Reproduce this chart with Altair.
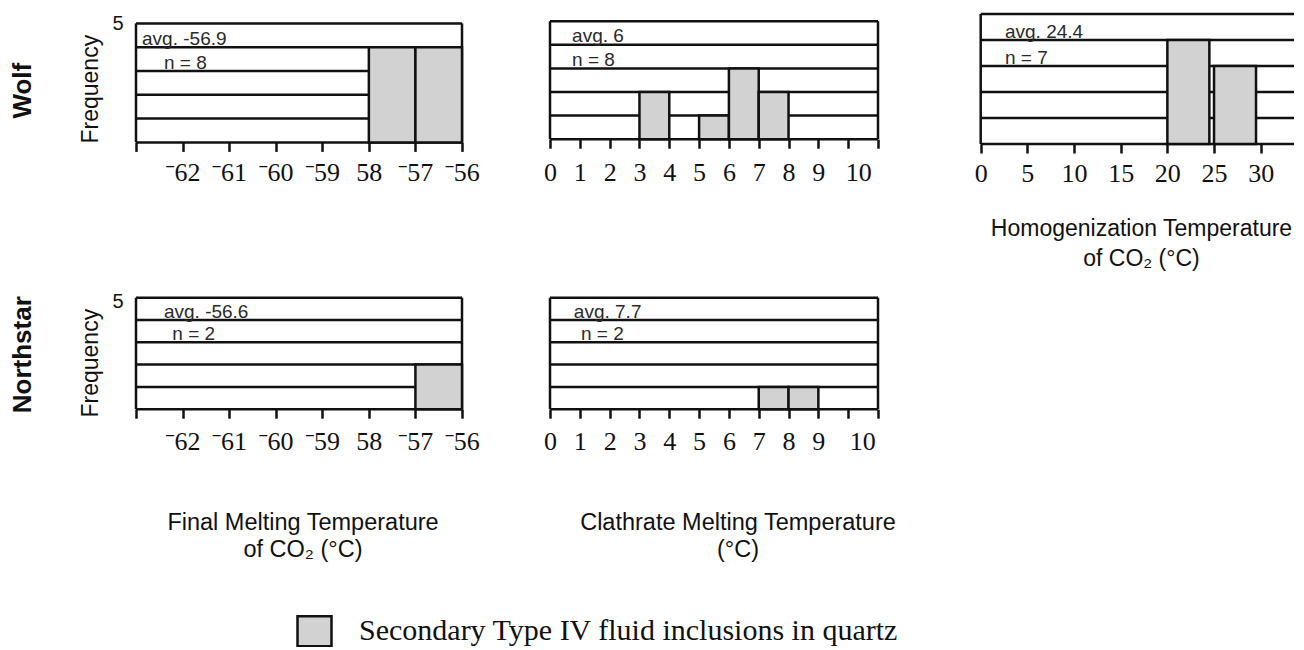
import altair as alt
import pandas as pd

# ---------------- data ----------------
ROW_LABELS = ["Wolf", "Northstar"]
Y_TITLE = "Frequency"
Y_LABEL_VALUES = [5]
LEVELS = [0, 1, 2, 3, 4, 5]
LEGEND_LABEL = "Secondary Type IV fluid inclusions in quartz"

FM_TITLE = ["Final Melting Temperature", "of CO\u2082 (\u00b0C)"]
CL_TITLE = ["Clathrate Melting Temperature", "(\u00b0C)"]
HO_TITLE = ["Homogenization Temperature", "of CO\u2082 (\u00b0C)"]

FM_TICKS = [-63, -62, -61, -60, -59, -58, -57, -56]
FM_TICK_LABELS = ["", "\u02c962", "\u02c961", "\u02c960", "\u02c959", "58", "\u02c957", "\u02c956"]
CL_TICKS = [0, 1, 2, 3, 4, 5, 6, 7, 8, 9, 10, 11]
CL_TICK_LABELS = ["0", "1", "2", "3", "4", "5", "6", "7", "8", "9", "10", ""]
HO_TICKS = [0, 5, 10, 15, 20, 25, 30, 35]
HO_TICK_LABELS = ["0", "5", "10", "15", "20", "25", "30", ""]

# Wolf
WOLF_FM_START = [-58, -57]
WOLF_FM_END = [-57, -56]
WOLF_FM_COUNT = [4, 4]
WOLF_FM_NOTES = ["avg. -56.9", "n = 8"]
WOLF_FM_NOTE_X = [-62.87, -62.4]
WOLF_FM_NOTE_Y = [4, 3]

WOLF_CL_START = [3, 5, 6, 7]
WOLF_CL_END = [4, 6, 7, 8]
WOLF_CL_COUNT = [2, 1, 3, 2]
WOLF_CL_NOTES = ["avg. 6", "n = 8"]
WOLF_CL_NOTE_X = [0.74, 0.74]
WOLF_CL_NOTE_Y = [4, 3]

WOLF_HO_START = [20, 25]
WOLF_HO_END = [24.5, 29.5]
WOLF_HO_COUNT = [4, 3]
WOLF_HO_NOTES = ["avg. 24.4", "n = 7"]
WOLF_HO_NOTE_X = [2.6, 2.6]
WOLF_HO_NOTE_Y = [4, 3]

# Northstar
NS_FM_START = [-57]
NS_FM_END = [-56]
NS_FM_COUNT = [2]
NS_FM_NOTES = ["avg. -56.6", "n = 2"]
NS_FM_NOTE_X = [-62.4, -62.22]
NS_FM_NOTE_Y = [4, 3]

NS_CL_START = [7, 8]
NS_CL_END = [8, 9]
NS_CL_COUNT = [1, 1]
NS_CL_NOTES = ["avg. 7.7", "n = 2"]
NS_CL_NOTE_X = [0.8, 1.04]
NS_CL_NOTE_Y = [4, 3]

# ---------------- style / layout ----------------
FILL = "#d2d2d2"
INK = "#111111"
SANS = "Liberation Sans"
SERIF = "Liberation Serif"
LW = 2.5

COL_GAP = 88
ROW_GAP = 153.7
FM_W = 326
CL_W = 328
HO_UNIT_PX = 9.333
HO_LEFT_PAD_PX = 14.7
TOP_ROW_H = 130.0
TL_H, TL_FRAME_H = 128.4, 119.0
TM_H, TM_FRAME_H = 125.2, 118.0
BOT_H = 111.5

LEGEND = alt.Legend(
    orient="none", legendX=160, legendY=598.7, title=None, padding=0,
    symbolType="M-1,-0.88H1V0.88H-1Z", symbolSize=34 * 34,
    symbolStrokeColor=INK, symbolStrokeWidth=LW, symbolOpacity=1,
    labelFont=SERIF, labelFontSize=30, labelColor=INK, labelLimit=1000,
    labelOffset=26,
)


def panel(scale_min, frame_min, frame_max, ticks, tick_labels, width, height, ymax,
          starts, ends, counts, notes, note_x, note_y, label_pad,
          title=None, title_x=None, title_y=None, title_lh=None, title_size=23.5,
          label_shift=None, left_axis=None, row_label=None, row_label_xy=None):
    xscale = alt.Scale(domain=[scale_min, frame_max], nice=False, zero=False)
    yscale = alt.Scale(domain=[0, ymax], nice=False, zero=False)
    expr = " : ".join(f"datum.value == {v} ? '{l}'" for v, l in zip(ticks, tick_labels)) + " : ''"
    ax = dict(values=ticks, labelExpr=expr, domain=False, grid=False, ticks=True,
              tickSize=9, tickWidth=LW, tickColor=INK, labelFont=SERIF, labelFontSize=26,
              labelColor=INK, labelPadding=label_pad, labelFlush=False, labelOverlap=False)
    if label_shift is not None:
        v, off = label_shift
        ax["labelOffset"] = {"condition": {"test": f"datum.value == {v}", "value": off}, "value": 0}
    if title is not None:
        ax.update(title=title, titleFont=SANS, titleFontSize=title_size, titleFontWeight="normal",
                  titleColor=INK, titleX=title_x, titleY=title_y, titleLineHeight=title_lh,
                  titleAlign="center", titleBaseline="alphabetic", titleAngle=0)
    else:
        ax.update(title=None)
    xaxis = alt.Axis(**ax)
    if left_axis is not None:
        ty, ldy = left_axis
        yaxis = alt.Axis(values=Y_LABEL_VALUES, domain=False, ticks=False, tickSize=0, grid=False,
                         labelFont=SANS, labelFontSize=20, labelColor=INK, labelPadding=13,
                         labelOffset=ldy, title=Y_TITLE, titleFont=SANS, titleFontSize=23,
                         titleFontWeight="normal", titleColor=INK, titleAngle=270,
                         titleX=-46, titleY=ty, titleAlign="center", titleBaseline="middle")
    else:
        yaxis = None

    def X(f):
        return alt.X(f, type="quantitative", scale=xscale, axis=xaxis)

    def Y(f):
        return alt.Y(f, type="quantitative", scale=yscale, axis=yaxis)

    grid_df = pd.DataFrame({"level": LEVELS, "x0": frame_min, "x1": frame_max})
    grid = alt.Chart(grid_df).mark_rule(color=INK, strokeWidth=LW).encode(
        x=X("x0"), x2="x1", y=Y("level"))
    border_df = pd.DataFrame({"x": [frame_min, frame_max],
                              "y0": [LEVELS[0]] * 2, "y1": [LEVELS[-1]] * 2})
    border = alt.Chart(border_df).mark_rule(color=INK, strokeWidth=LW).encode(
        x=X("x"), y=Y("y0"), y2="y1")
    bar_df = pd.DataFrame({"start": starts, "end": ends, "count": counts,
                           "base": 0, "kind": LEGEND_LABEL})
    bars = alt.Chart(bar_df).mark_bar(stroke=INK, strokeWidth=LW, opacity=1).encode(
        x=X("start"), x2="end", y=Y("count"), y2="base",
        color=alt.Color("kind:N", scale=alt.Scale(domain=[LEGEND_LABEL], range=[FILL]),
                        legend=LEGEND))
    note_df = pd.DataFrame({"x": note_x, "y": note_y, "text": notes})
    txt = alt.Chart(note_df).mark_text(align="left", baseline="alphabetic", dy=-2.5, font=SANS,
                                       fontSize=19, color="#2a2a2a").encode(
        x=X("x"), y=Y("y"), text="text:N")
    layers = [grid, border, bars, txt]
    if row_label is not None:
        rl_df = pd.DataFrame({"label": [row_label]})
        rl = alt.Chart(rl_df).mark_text(angle=270, font=SANS, fontSize=26, fontWeight="bold",
                                        color=INK, align="center", baseline="middle").encode(
            x=alt.value(row_label_xy[0]), y=alt.value(row_label_xy[1]), text="label:N")
        layers.append(rl)
    return alt.layer(*layers).properties(width=width, height=height)


tl = panel(FM_TICKS[0], FM_TICKS[0], FM_TICKS[-1], FM_TICKS, FM_TICK_LABELS, FM_W, TL_H,
           5 * TL_H / TL_FRAME_H, WOLF_FM_START, WOLF_FM_END, WOLF_FM_COUNT,
           WOLF_FM_NOTES, WOLF_FM_NOTE_X, WOLF_FM_NOTE_Y, 8,
           left_axis=(74.7, 0), row_label=ROW_LABELS[0], row_label_xy=(-113, 76.7))
tm = panel(CL_TICKS[0], CL_TICKS[0], CL_TICKS[-1], CL_TICKS, CL_TICK_LABELS, CL_W, TM_H,
           5 * TM_H / TM_FRAME_H, WOLF_CL_START, WOLF_CL_END, WOLF_CL_COUNT,
           WOLF_CL_NOTES, WOLF_CL_NOTE_X, WOLF_CL_NOTE_Y, 11, label_shift=(10, 10))
tr = panel(-HO_LEFT_PAD_PX / HO_UNIT_PX, HO_TICKS[0], HO_TICKS[-1], HO_TICKS, HO_TICK_LABELS,
           HO_LEFT_PAD_PX + HO_TICKS[-1] * HO_UNIT_PX, TOP_ROW_H, 5,
           WOLF_HO_START, WOLF_HO_END, WOLF_HO_COUNT,
           WOLF_HO_NOTES, WOLF_HO_NOTE_X, WOLF_HO_NOTE_Y, 7,
           title=HO_TITLE, title_x=175, title_y=91.7, title_lh=30, title_size=23)
bl = panel(FM_TICKS[0], FM_TICKS[0], FM_TICKS[-1], FM_TICKS, FM_TICK_LABELS, FM_W, BOT_H, 5,
           NS_FM_START, NS_FM_END, NS_FM_COUNT, NS_FM_NOTES, NS_FM_NOTE_X, NS_FM_NOTE_Y, 10.5,
           title=FM_TITLE, title_x=166.5, title_y=120.7, title_lh=27,
           left_axis=(65, 4), row_label=ROW_LABELS[1], row_label_xy=(-113, 57))
bm = panel(CL_TICKS[0], CL_TICKS[0], CL_TICKS[-1], CL_TICKS, CL_TICK_LABELS, CL_W, BOT_H, 5,
           NS_CL_START, NS_CL_END, NS_CL_COUNT, NS_CL_NOTES, NS_CL_NOTE_X, NS_CL_NOTE_Y, 10,
           title=CL_TITLE, title_x=187.5, title_y=120.7, title_lh=27, label_shift=(10, 14))

chart = alt.concat(
    tl, tm, tr, bl, bm, columns=3,
    spacing={"row": ROW_GAP, "column": COL_GAP}, bounds="flush", align="each",
).resolve_scale(color="shared").configure_view(stroke=None).properties(
    padding={"left": 2, "top": 4, "right": -15, "bottom": -5}, background="white")

chart.save("out.html", embed_options={"renderer": "svg", "actions": False})
